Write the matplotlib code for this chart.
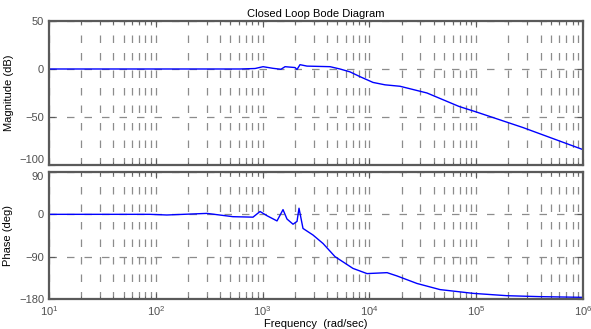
import matplotlib
matplotlib.use("Agg")
import matplotlib.pyplot as plt
import numpy as np

plt.rcParams["font.family"] = ["Liberation Sans", "DejaVu Sans"]
plt.rcParams["mathtext.fontset"] = "custom"
plt.rcParams["mathtext.rm"] = "Liberation Sans"

# magnitude response, rad/sec -> dB
mag_freq = [10, 100, 614, 850, 1010, 1251, 1486, 1622, 2011, 2100, 2240,
            2604, 4280, 5304, 6580, 8170, 10810, 14000, 19350, 34600,
            69000, 101700, 274000, 1000000]
mag_db = [0, 0, 0, 0.5, 2.4, 0.7, -0.3, 2.4, 1.5, -0.5, 4.5,
          3.0, 2.4, 0, -3, -8, -14, -16.5, -18, -25,
          -39, -45, -61, -84]

# phase response, rad/sec -> deg
ph_freq = [10, 88, 127, 301, 528, 813, 946, 1100, 1364, 1553, 1692,
           1927, 2100, 2192, 2389, 2964, 3679, 4765, 7021, 9500,
           14630, 18130, 27900, 45800, 93300, 194000, 395000, 1000000]
ph_deg = [0, 0, -1.4, 2, -5, -6, 6, -3, -14, 10, -10,
          -21, -15, 13, -30, -44, -62, -90, -115, -126,
          -124, -131, -147, -160, -168, -173, -175, -176.5]

mag_ticks = [-100, -50, 0, 50]
ph_ticks = [-180, -90, 0, 90]

frame_col = "#5a5a5a"
text_col = "#505050"
grid_kw = dict(color="#8c8c8c", linestyle=(0, (6, 8)), linewidth=0.9)


def style_axes(ax, yticks):
    ax.set_xscale("log")
    ax.set_xlim(10, 1e6)
    ax.set_yticks(yticks)
    ax.set_ylim(yticks[0], yticks[-1])
    ax.grid(True, which="major", **grid_kw)
    ax.grid(True, which="minor", axis="x", **grid_kw)
    for sp in ax.spines.values():
        sp.set_color(frame_col)
        sp.set_linewidth(1.6)
    ax.tick_params(which="both", direction="in", colors=frame_col,
                   labelcolor=text_col, labelsize=8, top=True, right=True)
    ax.tick_params(which="major", length=4)
    ax.tick_params(which="minor", length=2)


fig = plt.figure(figsize=(5.91, 3.29), dpi=100)
ax_mag = fig.add_axes([0.0829, 0.4985, 0.9036, 0.4377])
ax_ph = fig.add_axes([0.0829, 0.0912, 0.9036, 0.3860])

ax_mag.plot(mag_freq, mag_db, color="#0000ff", linewidth=1.0)
style_axes(ax_mag, mag_ticks)
ax_mag.tick_params(labelbottom=False)
ax_mag.set_ylabel("Magnitude (dB)", fontsize=8, color="black", labelpad=4)
ax_mag.set_title("Closed Loop Bode Diagram", fontsize=8, pad=3)

ax_ph.plot(ph_freq, ph_deg, color="#0000ff", linewidth=1.0)
style_axes(ax_ph, ph_ticks)
ax_ph.set_ylabel("Phase (deg)", fontsize=8, color="black", labelpad=4)
ax_ph.set_xlabel("Frequency  (rad/sec)", fontsize=8, labelpad=1)

# keep the -100 and 90 labels at the shared edge from running into each other
ax_mag.get_yticklabels()[0].set_va("bottom")
ax_ph.get_yticklabels()[-1].set_va("top")

fig.savefig("out.png", dpi=100)
